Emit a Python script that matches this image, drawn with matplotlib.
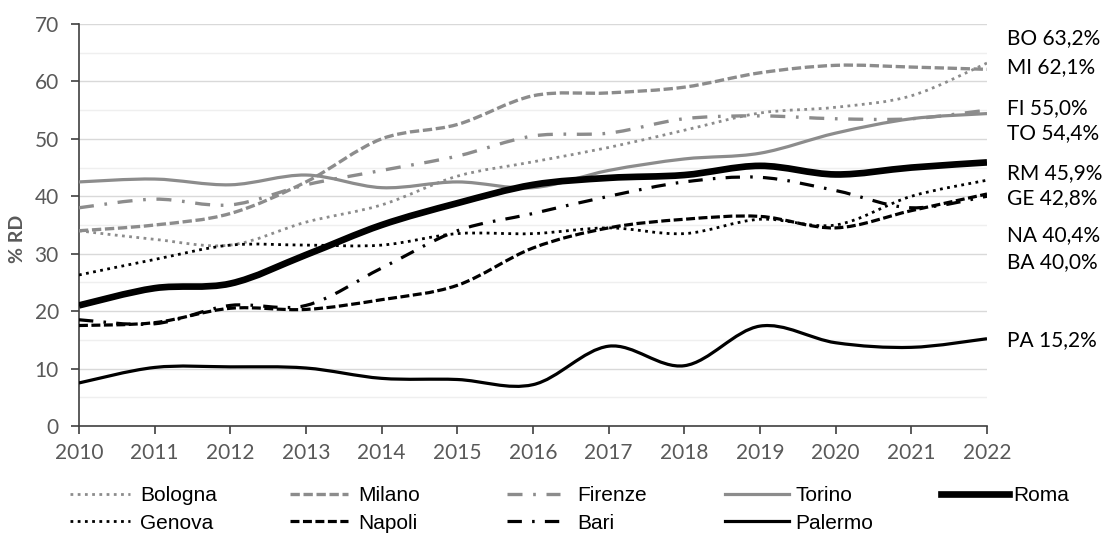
import numpy as np
import matplotlib
matplotlib.use("Agg")
import matplotlib.pyplot as plt
from matplotlib.path import Path
from matplotlib.patches import PathPatch
from matplotlib.lines import Line2D

plt.rcParams['font.family'] = ['Lato', 'DejaVu Sans']

anni = list(range(2010, 2023))

bologna = [34.0, 32.5, 31.5, 35.5, 38.5, 43.5, 46.0, 48.5, 51.5, 54.5, 55.5, 57.5, 63.2]
milano = [34.0, 35.0, 37.0, 42.5, 50.0, 52.5, 57.5, 58.0, 59.0, 61.5, 62.8, 62.5, 62.1]
firenze = [38.0, 39.5, 38.5, 42.0, 44.5, 47.0, 50.5, 51.0, 53.5, 54.0, 53.5, 53.5, 55.0]
torino = [42.5, 43.0, 42.0, 43.7, 41.5, 42.5, 41.5, 44.5, 46.5, 47.5, 51.0, 53.5, 54.4]
roma = [21.0, 24.0, 24.8, 29.8, 35.0, 38.8, 42.0, 43.2, 43.7, 45.3, 43.8, 45.0, 45.9]
genova = [26.3, 29.0, 31.5, 31.5, 31.5, 33.5, 33.5, 34.5, 33.5, 36.0, 35.0, 40.0, 42.8]
napoli = [17.5, 18.0, 20.5, 20.3, 22.0, 24.5, 31.0, 34.5, 36.0, 36.5, 34.5, 37.5, 40.4]
bari = [18.5, 17.8, 21.0, 21.0, 27.5, 34.0, 37.0, 40.0, 42.5, 43.3, 41.0, 38.0, 40.0]
palermo = [7.5, 10.2, 10.3, 10.1, 8.3, 8.1, 7.2, 13.9, 10.5, 17.4, 14.5, 13.7, 15.2]

etichette = ["BO 63,2%", "MI 62,1%", "FI 55,0%", "TO 54,4%", "RM 45,9%",
             "GE 42,8%", "NA 40,4%", "BA 40,0%", "PA 15,2%"]
etichette_y = [67.6, 62.5, 55.4, 51.0, 44.0, 39.7, 33.3, 28.6, 15.0]

GRIGIO = '#8c8c8c'

serie = [
    ("Bologna", bologna, GRIGIO, 2.0, (0, (1.0, 1.6))),
    ("Milano", milano, GRIGIO, 2.4, (0, (2.8, 1.1))),
    ("Firenze", firenze, GRIGIO, 2.4, (0, (4.5, 3.2, 0.8, 3.2))),
    ("Torino", torino, GRIGIO, 2.3, '-'),
    ("Roma", roma, 'black', 4.8, '-'),
    ("Genova", genova, 'black', 2.0, (0, (1.0, 1.6))),
    ("Napoli", napoli, 'black', 2.3, (0, (2.8, 1.1))),
    ("Bari", bari, 'black', 2.3, (0, (4.5, 3.2, 0.8, 3.2))),
    ("Palermo", palermo, 'black', 2.3, '-'),
]


def curva_liscia(x, y):
    # segmenti bezier come la "linea smussata" di Excel
    p = np.column_stack([x, y]).astype(float)
    n = len(p)
    verts = [p[0]]
    codes = [Path.MOVETO]
    for i in range(n - 1):
        p0 = p[i - 1] if i > 0 else p[i]
        p3 = p[i + 2] if i + 2 < n else p[i + 1]
        c1 = p[i] + (p[i + 1] - p0) / 6.0
        c2 = p[i + 1] - (p3 - p[i]) / 6.0
        verts += [c1, c2, p[i + 1]]
        codes += [Path.CURVE4] * 3
    return Path(verts, codes)


fig = plt.figure(figsize=(11.06, 5.39), dpi=100)
ax = fig.add_axes([0.0714, 0.2096, 0.8210, 0.7459])

for nome, val, col, lw, ls in serie:
    patch = PathPatch(curva_liscia(anni, val), fill=False, edgecolor=col,
                      linewidth=lw, linestyle=ls, capstyle='butt', zorder=3)
    ax.add_patch(patch)

ax.set_xlim(2010, 2022)
ax.set_ylim(0, 70)
ax.set_xticks(anni)
ax.set_yticks(range(0, 71, 10))
ax.set_yticks(range(5, 70, 10), minor=True)
ax.grid(axis='y', which='major', color='#d9d9d9', linewidth=1.0, zorder=0)
ax.grid(axis='y', which='minor', color='#efefef', linewidth=1.0, zorder=0)
ax.tick_params(axis='y', which='minor', length=0)
ax.tick_params(axis='both', which='major', labelsize=15, color='#404040',
               labelcolor='#595959', length=5.5, width=1.2)
ax.tick_params(axis='x', which='major', pad=7)
ax.tick_params(axis='y', which='major', pad=9)
ax.set_ylabel("% RD", fontsize=14, fontweight='bold', color='#595959')
ax.yaxis.set_label_coords(-0.058, 0.466)
for s in ['top', 'right']:
    ax.spines[s].set_visible(False)
for s in ['left', 'bottom']:
    ax.spines[s].set_color('#404040')
    ax.spines[s].set_linewidth(1.2)

for txt, yv in zip(etichette, etichette_y):
    ax.text(2022.27, yv, txt, fontsize=15, va='center', ha='left',
            color='black', clip_on=False)

# legenda: una colonna per coppia di serie
colonne_x = [70, 290, 507, 725, 941]
lung_manico = [2.9, 2.8, 2.55, 3.05, 3.25]
spazio_testo = [0.48, 0.48, 0.8, 0.34, 0.2]
for c in range(5):
    gruppo = [serie[c]] + ([serie[c + 5]] if c + 5 < len(serie) else [])
    handles = [Line2D([], [], color=col, linewidth=lw, linestyle=ls)
               for _, _, col, lw, ls in gruppo]
    nomi = [g[0] for g in gruppo]
    fig.legend(handles, nomi, loc='upper left',
               bbox_to_anchor=(colonne_x[c] / 1106, 1 - 486 / 539),
               frameon=False, handlelength=lung_manico[c],
               handletextpad=spazio_testo[c], labelspacing=0.42,
               borderaxespad=0, borderpad=0,
               prop={'family': 'Liberation Sans', 'size': 15})

fig.savefig("out.png", dpi=100)
